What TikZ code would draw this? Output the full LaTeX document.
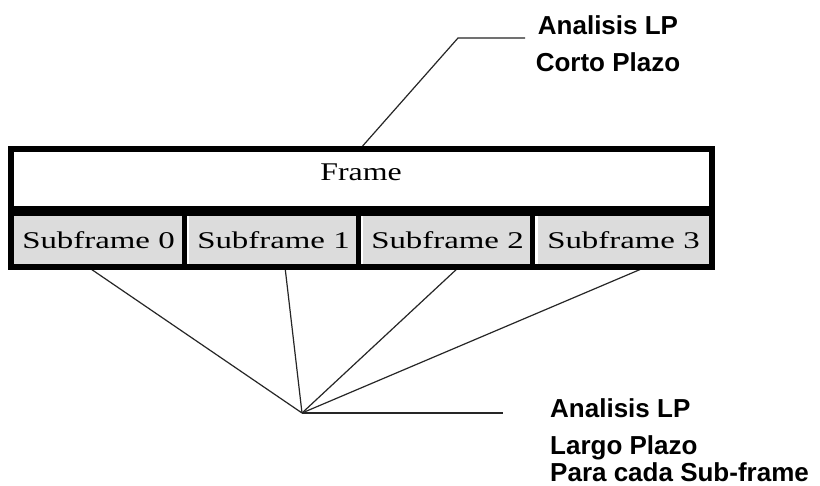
\documentclass[tikz,border=0pt]{standalone}
\usepackage{fontspec}
\setmainfont{Liberation Serif}
\newfontfamily\labfont{Liberation Sans}
\newfontfamily\subfont[FakeStretch=1.37]{Liberation Serif}
\newfontfamily\framefont[FakeStretch=1.25]{Liberation Serif}
\definecolor{sfgray}{HTML}{DCDCDC}
\begin{document}
\begin{tikzpicture}[x=1pt,y=-1pt,
  sfbox/.style={rectangle, fill=sfgray, inner sep=0pt, minimum width=171pt, minimum height=48pt,
     font=\subfont\fontsize{24}{28}\selectfont},
  leader/.style={line width=1.2pt, black!85},
  lab/.style={inner sep=0pt, font=\labfont\bfseries}]
\useasboundingbox (0,0) rectangle (820,486);
\fill[white] (0,0) rectangle (820,486);
% leader lines (behind the box)
\coordinate (topfoot) at (360,149);
\coordinate (topbend) at (458,38);
\coordinate (topend) at (525,38);
\coordinate (hub) at (302,413);
\coordinate (hubend) at (503,413);
\coordinate (f0) at (88,267);
\coordinate (f1) at (285,267);
\coordinate (f2) at (459,267);
\coordinate (f3) at (646,267);
\draw[leader] (topfoot) -- (topbend) -- (topend);
\draw[leader] (f0) -- (hub);
\draw[leader] (f1) -- (hub);
\draw[leader] (f2) -- (hub);
\draw[leader] (f3) -- (hub);
\draw[leader] (hub) -- (hubend);
% subframes
\node[sfbox] (sf0) at (98.5,240) {Subframe 0};
\node[sfbox, minimum width=170pt] (sf1) at (273.5,240) {Subframe 1};
\node[sfbox, minimum width=170pt] (sf2) at (447.5,240) {Subframe 2};
\node[sfbox] (sf3) at (623.5,240) {Subframe 3};
% frame text
\node[inner sep=0pt, font=\framefont\fontsize{25.5}{30}\selectfont] (frame) at (361,172) {Frame};
% borders
\node[draw, line width=6pt, inner sep=0pt, minimum width=701pt, minimum height=118pt] (box) at (361.5,208) {};
\draw[line width=10pt] (box.west |- 0,211) -- (box.east |- 0,211);
\draw[line width=5pt] (sf0.east) ++(0,-27) -- ++(0,54);
\draw[line width=5pt] (sf1.east) ++(0,-27) -- ++(0,54);
\draw[line width=5pt] (sf2.east) ++(0,-27) -- ++(0,54);
% labels
\node[lab, align=center, anchor=base, font=\labfont\bfseries\fontsize{26}{37}\selectfont] (corto) at (608,72) {Analisis LP\\Corto Plazo};
\node[lab, align=left, anchor=base west, font=\labfont\bfseries\fontsize{26}{27}\selectfont] (largo) at (550,482) {Analisis LP\\[11pt]Largo Plazo\\Para cada Sub-frame};
\end{tikzpicture}
\end{document}
